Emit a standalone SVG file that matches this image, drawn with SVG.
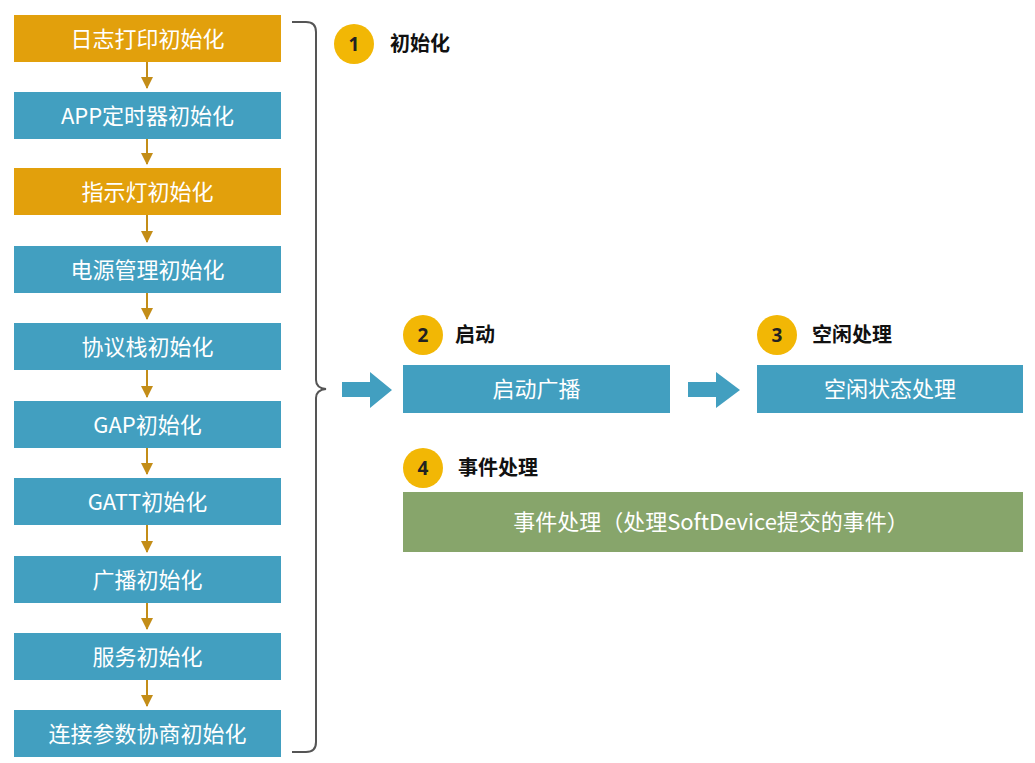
<svg xmlns="http://www.w3.org/2000/svg" width="1035" height="763" viewBox="0 0 1035 763">
  <defs>
    <style>
      .orange { fill: #E2A00C; }
      .blue { fill: #429FC0; }
      .green { fill: #87A56B; }
      .box-text { font-family: "Noto Sans CJK SC", "Noto Sans", sans-serif; font-size: 22px; fill: #ffffff; text-anchor: middle; }
      .badge { fill: #F2B705; }
      .badge-num { font-family: "Noto Sans", "Liberation Sans", sans-serif; font-size: 19px; font-weight: bold; fill: #222222; text-anchor: middle; }
      .badge-label { font-family: "Noto Sans CJK SC", sans-serif; font-size: 20px; font-weight: bold; fill: #111111; }
      .flow { stroke: #C38D18; stroke-width: 2; fill: none; }
      .bracket { stroke: #555555; stroke-width: 2; fill: none; }
      .big-arrow { fill: #429FC0; }
    </style>
    <marker id="ah" viewBox="0 0 12 12" markerWidth="12" markerHeight="12" refX="11" refY="6" orient="auto" markerUnits="userSpaceOnUse">
      <path d="M0,0 L12,6 L0,12 Z" fill="#C38D18"/>
    </marker>
  </defs>
  <rect width="1035" height="763" fill="#ffffff"/>

  <!-- Initialization steps -->
  <g id="n1"><rect class="orange" x="14" y="15" width="267" height="47"/><text class="box-text" x="147.5" y="47">日志打印初始化</text></g>
  <g id="n2"><rect class="blue" x="14" y="92" width="267" height="47"/><text class="box-text" x="147.5" y="124">APP定时器初始化</text></g>
  <g id="n3"><rect class="orange" x="14" y="168" width="267" height="47"/><text class="box-text" x="147.5" y="200">指示灯初始化</text></g>
  <g id="n4"><rect class="blue" x="14" y="246" width="267" height="47"/><text class="box-text" x="147.5" y="278">电源管理初始化</text></g>
  <g id="n5"><rect class="blue" x="14" y="323" width="267" height="47"/><text class="box-text" x="147.5" y="355">协议栈初始化</text></g>
  <g id="n6"><rect class="blue" x="14" y="401" width="267" height="47"/><text class="box-text" x="147.5" y="433">GAP初始化</text></g>
  <g id="n7"><rect class="blue" x="14" y="478" width="267" height="47"/><text class="box-text" x="147.5" y="510">GATT初始化</text></g>
  <g id="n8"><rect class="blue" x="14" y="556" width="267" height="47"/><text class="box-text" x="147.5" y="588">广播初始化</text></g>
  <g id="n9"><rect class="blue" x="14" y="633" width="267" height="47"/><text class="box-text" x="147.5" y="665">服务初始化</text></g>
  <g id="n10"><rect class="blue" x="14" y="710" width="267" height="47"/><text class="box-text" x="147.5" y="742">连接参数协商初始化</text></g>

  <!-- Stage headings -->
  <g id="h1"><circle class="badge" cx="354" cy="44" r="20"/><text class="badge-num" x="354" y="51">1</text><text class="badge-label" x="390" y="51">初始化</text></g>
  <g id="h2"><circle class="badge" cx="423" cy="335" r="20"/><text class="badge-num" x="423" y="342">2</text><text class="badge-label" x="455" y="342">启动</text></g>
  <g id="h3"><circle class="badge" cx="777" cy="335" r="20"/><text class="badge-num" x="777" y="342">3</text><text class="badge-label" x="812" y="342">空闲处理</text></g>
  <g id="h4"><circle class="badge" cx="423" cy="468" r="20"/><text class="badge-num" x="423" y="475">4</text><text class="badge-label" x="458" y="475">事件处理</text></g>

  <!-- Runtime stages -->
  <g id="adv"><rect class="blue" x="403" y="365" width="267" height="48"/><text class="box-text" x="536.5" y="397">启动广播</text></g>
  <g id="idle"><rect class="blue" x="757" y="365" width="266" height="48"/><text class="box-text" x="890" y="397">空闲状态处理</text></g>
  <g id="evt"><rect class="green" x="403" y="492" width="620" height="60"/><text class="box-text" x="711" y="530">事件处理（处理SoftDevice提交的事件）</text></g>

  <!-- Connectors -->
  <g id="connectors">
    <line class="flow" x1="147" y1="62" x2="147" y2="88" marker-end="url(#ah)"/>
    <line class="flow" x1="147" y1="139" x2="147" y2="164" marker-end="url(#ah)"/>
    <line class="flow" x1="147" y1="215" x2="147" y2="242" marker-end="url(#ah)"/>
    <line class="flow" x1="147" y1="293" x2="147" y2="319" marker-end="url(#ah)"/>
    <line class="flow" x1="147" y1="370" x2="147" y2="397" marker-end="url(#ah)"/>
    <line class="flow" x1="147" y1="448" x2="147" y2="474" marker-end="url(#ah)"/>
    <line class="flow" x1="147" y1="525" x2="147" y2="552" marker-end="url(#ah)"/>
    <line class="flow" x1="147" y1="603" x2="147" y2="629" marker-end="url(#ah)"/>
    <line class="flow" x1="147" y1="680" x2="147" y2="706" marker-end="url(#ah)"/>

    <!-- curly brace grouping the initialization steps -->
    <path class="bracket" d="M292,22 L306,22 Q316,22 316,32 L316,380 Q316,388 326,389 Q316,390 316,398 L316,742 Q316,752 306,752 L292,752"/>

    <!-- block arrows between stages -->
    <path class="big-arrow" d="M342,382 L370,382 L370,372 L392,390 L370,408 L370,397 L342,397 Z"/>
    <path class="big-arrow" d="M688,382 L716,382 L716,372 L740,390 L716,408 L716,397 L688,397 Z"/>
  </g>
</svg>
